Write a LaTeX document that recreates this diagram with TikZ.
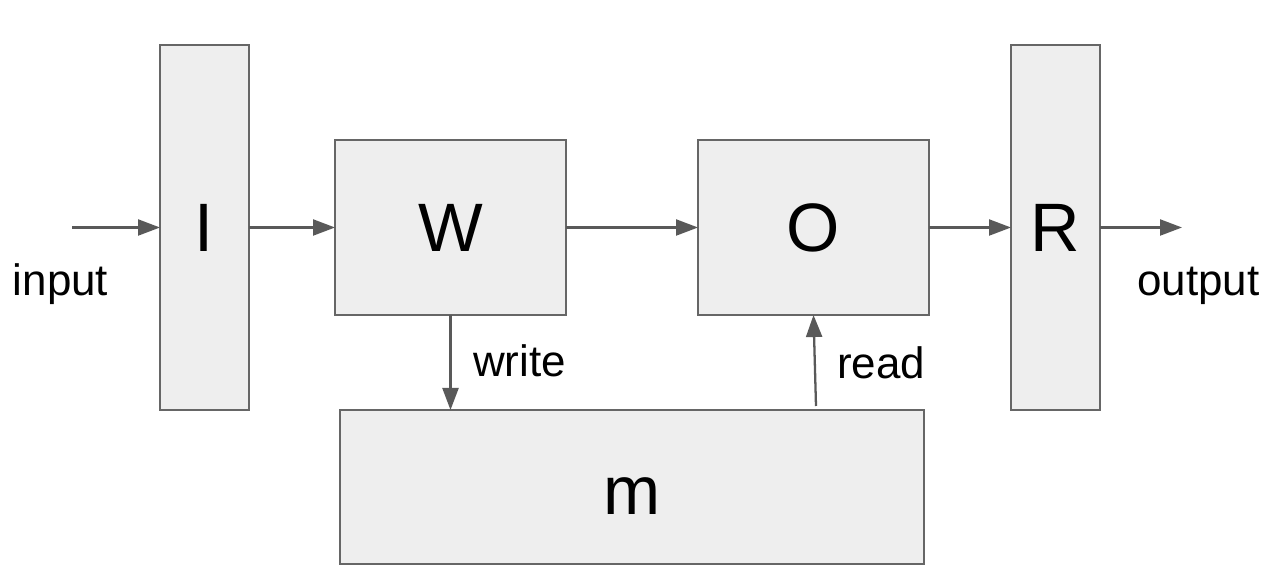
\documentclass[tikz,border=0pt]{standalone}
\usepackage{fontspec}
\setmainfont{Liberation Sans}
\usepackage{tikz}
\usetikzlibrary{arrows.meta,positioning}
\definecolor{boxfill}{RGB}{238,238,238}
\definecolor{boxline}{RGB}{102,102,102}
\definecolor{flowcol}{RGB}{89,89,89}
\tikzset{
  block/.style ={rectangle, draw=boxline, line width=1.2pt, fill=boxfill,
                 inner sep=0pt, outer sep=0pt, font=\fontsize{39}{47}\selectfont},
  tall/.style  ={block, minimum width=17.8mm, minimum height=73mm},
  unit/.style  ={block, minimum width=46.2mm, minimum height=35mm},
  flow/.style  ={-{Triangle[length=4.4mm, width=3.2mm]}, line width=1.3pt, draw=flowcol},
  lbl/.style   ={font=\fontsize{25}{30}\selectfont, inner sep=0pt, anchor=base},
}

\begin{document}
\begin{tikzpicture}
    \useasboundingbox (0,0) rectangle (25.68,-11.76);
    \node[tall] (in) at (4.09,-4.55) {I};
    \node[unit, right=1.72cm of in] (wr) {W};
    \node[unit, right=2.64cm of wr] (rd) {O};
    \node[tall, right=1.64cm of rd] (out) {R};
    \node[block, minimum width=116.8mm, minimum height=30.8mm,
          text height=1.12cm, text depth=0pt] (mem) at (12.64,-9.74) {m};

    \coordinate (src) at (1.44,-4.55);
    \coordinate (snk) at (23.64,-4.55);

    \draw[flow] (src) -- (in);
    \draw[flow] (in) -- (wr);
    \draw[flow] (wr) -- (rd);
    \draw[flow] (rd) -- (out);
    \draw[flow] (out) -- (snk);
    \draw[flow] (wr.south) -- (wr.south |- mem.north);
    \draw[flow] ([xshift=0.05cm, yshift=0.08cm]rd.south |- mem.north) -- (rd.south);

    \node[lbl] (inlbl)  at (1.21,-5.91)  {input};
    \node[lbl] (outlbl) at (23.97,-5.91) {output};
    \node[lbl] (wlbl)   at (10.39,-7.54) {write};
    \node[lbl] (rlbl)   at (17.62,-7.58) {read};
  \end{tikzpicture}
\end{document}
